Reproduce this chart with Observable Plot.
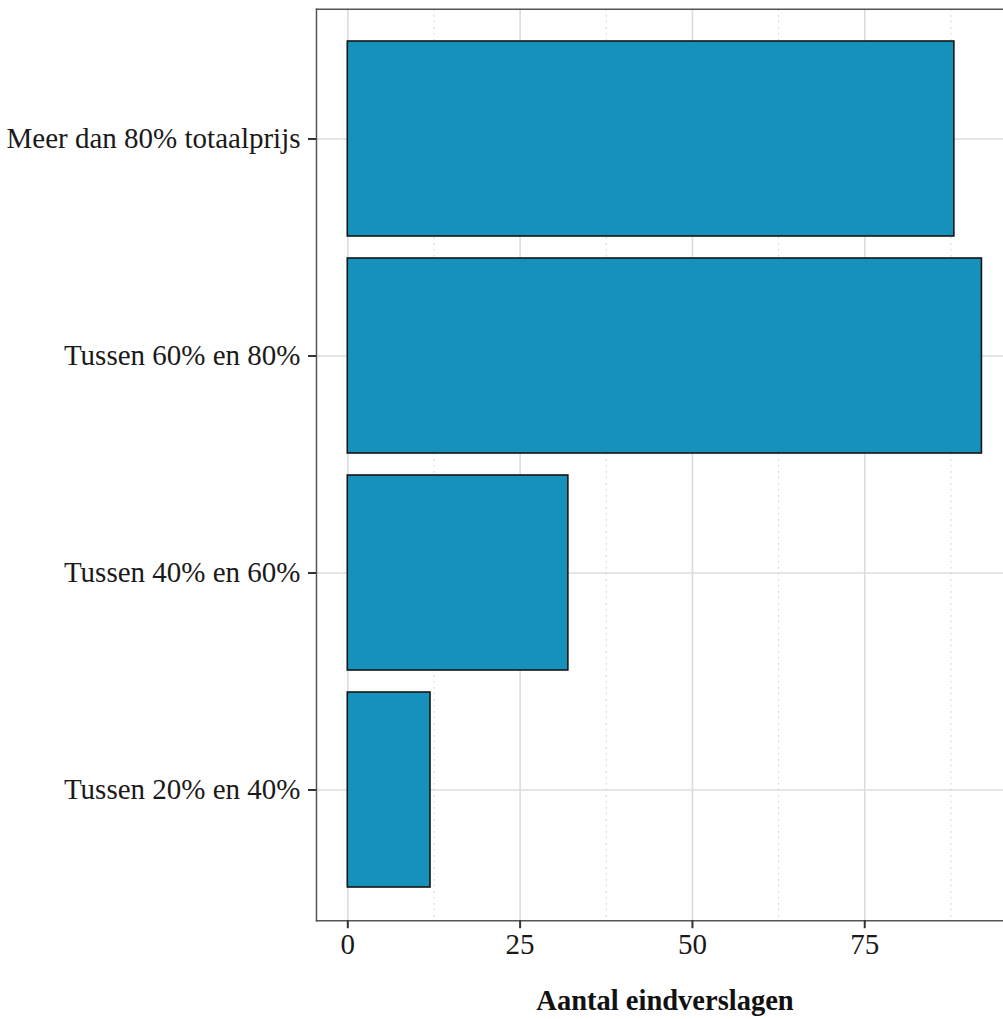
<!DOCTYPE html>
<html>
<head>
<meta charset="utf-8">
<script src="https://cdn.jsdelivr.net/npm/d3@7"></script>
<script src="https://cdn.jsdelivr.net/npm/@observablehq/plot@0.6"></script>
<style>
  html, body { margin: 0; padding: 0; background: white; overflow: hidden; }
</style>
</head>
<body>
<div id="chart"></div>
<script>
const categories = ["Meer dan 80% totaalprijs", "Tussen 60% en 80%", "Tussen 40% en 60%", "Tussen 20% en 40%"];
const counts = [88, 92, 32, 12];
const xTicks = [0, 25, 50, 75];
const xMinor = [12.5, 37.5, 62.5, 87.5];
const xTitle = "Aantal eindverslagen";

const data = categories.map((c, i) => ({category: c, count: counts[i]}));

const chart = Plot.plot({
  width: 1003,
  height: 1019,
  marginLeft: 316,
  marginRight: 0,
  marginTop: 8.8,
  marginBottom: 98.8,
  style: {fontFamily: "'Liberation Serif', 'Times New Roman', serif", fontSize: "29px", color: "#1a1a1a", background: "white"},
  x: {domain: [-4.54, 95.13], label: null},
  y: {domain: categories, paddingInner: 0.1, paddingOuter: 0.15, label: null},
  marks: [
    Plot.ruleY(categories, {y: d => d, stroke: "#dcdcdc", strokeWidth: 1.6}),
    Plot.ruleX(xTicks, {x: d => d, stroke: "#dcdcdc", strokeWidth: 1.6}),
    Plot.ruleX(xMinor, {x: d => d, stroke: "#d4d4d4", strokeWidth: 1, strokeDasharray: "2,4"}),
    Plot.barX(data, {x: "count", y: "category", fill: "#1591bb", stroke: "#151515", strokeWidth: 1.6}),
    Plot.frame({anchor: "left", stroke: "#555", strokeWidth: 1.5}),
    Plot.frame({anchor: "top", stroke: "#555", strokeWidth: 1.5}),
    Plot.frame({anchor: "bottom", stroke: "#555", strokeWidth: 1.5}),
    Plot.axisX({ticks: xTicks, tickSize: 8, tickPadding: 5, stroke: "#333", strokeWidth: 2, fill: "#1a1a1a", label: null, fontSize: 29}),
    Plot.axisY({tickSize: 8, tickPadding: 8, stroke: "#333", strokeWidth: 2, fill: "#1a1a1a", label: null, fontSize: 29}),
    Plot.text([xTitle], {frameAnchor: "bottom", lineAnchor: "middle", dx: 5, dy: 80, fontWeight: "bold", fontSize: 28.5, fill: "#111"})
  ]
});
document.getElementById("chart").appendChild(chart);
</script>
</body>
</html>
